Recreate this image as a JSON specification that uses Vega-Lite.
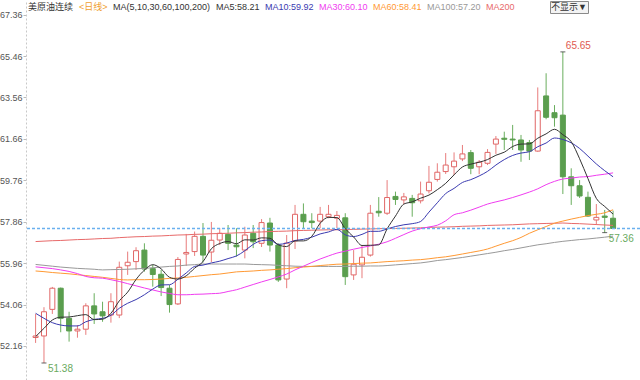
{
"$schema": "https://vega.github.io/schema/vega-lite/v6.json",
"width": 614, "height": 380,
"autosize": {"type": "none"},
"padding": {"left": 26, "top": 0, "right": 0, "bottom": 0},
"background": "white",
"config": {"view": {"stroke": null}, "font": "Liberation Sans"},
"datasets": {"k": [
{"i":1,"o":52.55,"h":53.63,"l":52.30,"c":52.62,"m5":52.59,"m10":53.66,"m30":55.79,"m60":55.60,"m100":55.90,"m200":56.95},
{"i":2,"o":52.62,"h":53.94,"l":51.38,"c":53.73,"m5":52.97,"m10":53.43,"m30":55.75,"m60":55.57,"m100":55.86,"m200":56.97},
{"i":3,"o":53.84,"h":54.87,"l":53.63,"c":54.81,"m5":53.35,"m10":53.23,"m30":55.71,"m60":55.53,"m100":55.82,"m200":56.99},
{"i":4,"o":54.81,"h":54.84,"l":52.79,"c":53.43,"m5":53.48,"m10":53.12,"m30":55.65,"m60":55.50,"m100":55.78,"m200":57.00},
{"i":5,"o":53.43,"h":53.73,"l":52.36,"c":52.85,"m5":53.49,"m10":53.08,"m30":55.58,"m60":55.47,"m100":55.75,"m200":57.02},
{"i":6,"o":52.85,"h":53.12,"l":52.54,"c":52.93,"m5":53.55,"m10":53.08,"m30":55.48,"m60":55.43,"m100":55.72,"m200":57.04},
{"i":7,"o":52.93,"h":54.12,"l":52.67,"c":54.00,"m5":53.60,"m10":53.27,"m30":55.35,"m60":55.39,"m100":55.70,"m200":57.05},
{"i":8,"o":54.00,"h":54.58,"l":53.17,"c":53.63,"m5":53.37,"m10":53.38,"m30":55.29,"m60":55.35,"m100":55.68,"m200":57.07},
{"i":9,"o":53.73,"h":54.19,"l":53.27,"c":53.54,"m5":53.39,"m10":53.43,"m30":55.27,"m60":55.31,"m100":55.65,"m200":57.09},
{"i":10,"o":53.58,"h":54.58,"l":53.23,"c":54.19,"m5":53.66,"m10":53.57,"m30":55.20,"m60":55.26,"m100":55.66,"m200":57.10},
{"i":11,"o":53.58,"h":56.03,"l":53.44,"c":55.77,"m5":54.23,"m10":53.89,"m30":55.12,"m60":55.21,"m100":55.67,"m200":57.13},
{"i":12,"o":55.84,"h":56.49,"l":55.42,"c":56.00,"m5":54.63,"m10":54.12,"m30":55.02,"m60":55.19,"m100":55.68,"m200":57.15},
{"i":13,"o":56.03,"h":56.69,"l":55.65,"c":56.53,"m5":55.21,"m10":54.29,"m30":54.92,"m60":55.20,"m100":55.70,"m200":57.17},
{"i":14,"o":56.56,"h":56.87,"l":55.57,"c":55.69,"m5":55.64,"m10":54.51,"m30":54.82,"m60":55.20,"m100":55.72,"m200":57.18},
{"i":15,"o":55.71,"h":55.88,"l":54.88,"c":55.44,"m5":55.89,"m10":54.77,"m30":54.73,"m60":55.21,"m100":55.75,"m200":57.20},
{"i":16,"o":55.45,"h":55.65,"l":54.45,"c":54.84,"m5":55.70,"m10":54.96,"m30":54.64,"m60":55.23,"m100":55.78,"m200":57.21},
{"i":17,"o":54.81,"h":54.96,"l":53.69,"c":54.06,"m5":55.31,"m10":54.97,"m30":54.57,"m60":55.26,"m100":55.81,"m200":57.23},
{"i":18,"o":54.09,"h":56.24,"l":54.04,"c":56.13,"m5":55.23,"m10":55.22,"m30":54.51,"m60":55.28,"m100":55.83,"m200":57.25},
{"i":19,"o":56.38,"h":57.30,"l":55.83,"c":56.45,"m5":55.38,"m10":55.51,"m30":54.51,"m60":55.31,"m100":55.87,"m200":57.26},
{"i":20,"o":56.49,"h":57.41,"l":56.29,"c":57.19,"m5":55.73,"m10":55.81,"m30":54.53,"m60":55.35,"m100":55.89,"m200":57.28},
{"i":21,"o":57.19,"h":57.80,"l":55.99,"c":56.33,"m5":56.03,"m10":55.87,"m30":54.54,"m60":55.39,"m100":55.92,"m200":57.29},
{"i":22,"o":56.47,"h":57.85,"l":56.01,"c":57.01,"m5":56.62,"m10":55.97,"m30":54.56,"m60":55.43,"m100":55.92,"m200":57.31},
{"i":23,"o":57.02,"h":57.57,"l":56.79,"c":57.33,"m5":56.86,"m10":56.05,"m30":54.58,"m60":55.46,"m100":55.92,"m200":57.32},
{"i":24,"o":57.28,"h":57.71,"l":56.56,"c":56.87,"m5":56.95,"m10":56.17,"m30":54.66,"m60":55.51,"m100":55.92,"m200":57.33},
{"i":25,"o":56.79,"h":57.56,"l":56.26,"c":56.71,"m5":56.85,"m10":56.29,"m30":54.74,"m60":55.56,"m100":55.92,"m200":57.35},
{"i":26,"o":56.56,"h":57.63,"l":56.18,"c":57.25,"m5":57.03,"m10":56.53,"m30":54.86,"m60":55.58,"m100":55.92,"m200":57.36},
{"i":27,"o":57.33,"h":57.71,"l":56.65,"c":56.94,"m5":57.02,"m10":56.82,"m30":54.98,"m60":55.60,"m100":55.90,"m200":57.38},
{"i":28,"o":56.87,"h":57.98,"l":56.70,"c":57.82,"m5":57.12,"m10":56.99,"m30":55.10,"m60":55.63,"m100":55.89,"m200":57.39},
{"i":29,"o":57.80,"h":58.04,"l":56.49,"c":56.79,"m5":57.10,"m10":57.02,"m30":55.21,"m60":55.65,"m100":55.88,"m200":57.41},
{"i":30,"o":56.79,"h":56.87,"l":55.10,"c":55.19,"m5":56.80,"m10":56.82,"m30":55.33,"m60":55.68,"m100":55.86,"m200":57.42},
{"i":31,"o":55.23,"h":57.25,"l":54.81,"c":56.88,"m5":56.72,"m10":56.88,"m30":55.46,"m60":55.71,"m100":55.84,"m200":57.43},
{"i":32,"o":56.98,"h":58.63,"l":56.61,"c":58.20,"m5":56.98,"m10":57.00,"m30":55.65,"m60":55.75,"m100":55.82,"m200":57.45},
{"i":33,"o":58.20,"h":58.70,"l":57.56,"c":57.86,"m5":56.98,"m10":57.05,"m30":55.82,"m60":55.78,"m100":55.81,"m200":57.46},
{"i":34,"o":57.89,"h":58.25,"l":57.56,"c":57.82,"m5":57.19,"m10":57.15,"m30":55.99,"m60":55.81,"m100":55.81,"m200":57.47},
{"i":35,"o":57.89,"h":58.54,"l":57.56,"c":58.20,"m5":57.79,"m10":57.30,"m30":56.15,"m60":55.85,"m100":55.81,"m200":57.48},
{"i":36,"o":58.09,"h":58.63,"l":58.02,"c":58.20,"m5":58.06,"m10":57.39,"m30":56.29,"m60":55.88,"m100":55.81,"m200":57.49},
{"i":37,"o":58.02,"h":58.35,"l":57.57,"c":58.15,"m5":58.05,"m10":57.51,"m30":56.42,"m60":55.91,"m100":55.81,"m200":57.49},
{"i":38,"o":58.04,"h":58.25,"l":54.96,"c":55.34,"m5":57.54,"m10":57.26,"m30":56.51,"m60":55.92,"m100":55.81,"m200":57.50},
{"i":39,"o":55.42,"h":56.56,"l":55.19,"c":55.91,"m5":57.16,"m10":57.18,"m30":56.60,"m60":55.94,"m100":55.82,"m200":57.51},
{"i":40,"o":55.88,"h":56.79,"l":55.27,"c":56.23,"m5":56.77,"m10":57.28,"m30":56.68,"m60":55.96,"m100":55.82,"m200":57.52},
{"i":41,"o":56.33,"h":58.63,"l":56.26,"c":58.25,"m5":56.78,"m10":57.42,"m30":56.75,"m60":55.97,"m100":55.83,"m200":57.53},
{"i":42,"o":58.34,"h":58.99,"l":58.09,"c":58.27,"m5":56.80,"m10":57.42,"m30":56.83,"m60":56.00,"m100":55.83,"m200":57.54},
{"i":43,"o":58.25,"h":59.77,"l":58.17,"c":58.97,"m5":57.53,"m10":57.53,"m30":56.94,"m60":56.03,"m100":55.85,"m200":57.55},
{"i":44,"o":59.02,"h":59.24,"l":58.63,"c":58.88,"m5":58.12,"m10":57.64,"m30":57.10,"m60":56.05,"m100":55.88,"m200":57.55},
{"i":45,"o":58.86,"h":59.18,"l":58.67,"c":59.00,"m5":58.67,"m10":57.72,"m30":57.27,"m60":56.07,"m100":55.91,"m200":57.56},
{"i":46,"o":58.93,"h":59.09,"l":58.09,"c":58.73,"m5":58.77,"m10":57.77,"m30":57.43,"m60":56.10,"m100":55.94,"m200":57.57},
{"i":47,"o":58.82,"h":59.70,"l":58.70,"c":59.13,"m5":58.94,"m10":57.87,"m30":57.54,"m60":56.12,"m100":55.97,"m200":57.58},
{"i":48,"o":59.28,"h":60.42,"l":59.16,"c":59.67,"m5":59.08,"m10":58.30,"m30":57.62,"m60":56.16,"m100":56.02,"m200":57.60},
{"i":49,"o":59.80,"h":60.54,"l":59.70,"c":60.13,"m5":59.33,"m10":58.73,"m30":57.70,"m60":56.21,"m100":56.08,"m200":57.61},
{"i":50,"o":60.16,"h":61.01,"l":60.05,"c":60.46,"m5":59.62,"m10":59.15,"m30":57.90,"m60":56.25,"m100":56.12,"m200":57.62},
{"i":51,"o":60.38,"h":61.04,"l":60.00,"c":60.64,"m5":60.01,"m10":59.39,"m30":58.18,"m60":56.31,"m100":56.17,"m200":57.63},
{"i":52,"o":60.74,"h":61.38,"l":60.64,"c":60.97,"m5":60.37,"m10":59.66,"m30":58.27,"m60":56.38,"m100":56.22,"m200":57.65},
{"i":53,"o":61.03,"h":61.15,"l":60.04,"c":60.31,"m5":60.50,"m10":59.79,"m30":58.39,"m60":56.45,"m100":56.28,"m200":57.66},
{"i":54,"o":60.38,"h":60.69,"l":60.04,"c":60.59,"m5":60.59,"m10":59.96,"m30":58.53,"m60":56.52,"m100":56.34,"m200":57.67},
{"i":55,"o":60.54,"h":61.19,"l":60.46,"c":61.04,"m5":60.71,"m10":60.17,"m30":58.67,"m60":56.61,"m100":56.40,"m200":57.69},
{"i":56,"o":61.42,"h":61.79,"l":60.97,"c":61.65,"m5":60.91,"m10":60.46,"m30":58.77,"m60":56.74,"m100":56.46,"m200":57.70},
{"i":57,"o":61.69,"h":61.99,"l":61.15,"c":61.64,"m5":61.05,"m10":60.71,"m30":58.86,"m60":56.87,"m100":56.53,"m200":57.71},
{"i":58,"o":61.65,"h":62.30,"l":61.15,"c":61.61,"m5":61.31,"m10":60.90,"m30":58.97,"m60":56.99,"m100":56.59,"m200":57.72},
{"i":59,"o":61.61,"h":61.84,"l":60.61,"c":61.15,"m5":61.42,"m10":61.01,"m30":59.09,"m60":57.14,"m100":56.66,"m200":57.74},
{"i":60,"o":61.49,"h":61.61,"l":60.69,"c":61.10,"m5":61.43,"m10":61.07,"m30":59.22,"m60":57.33,"m100":56.73,"m200":57.76},
{"i":61,"o":61.10,"h":64.02,"l":61.07,"c":62.95,"m5":61.69,"m10":61.30,"m30":59.37,"m60":57.49,"m100":56.80,"m200":57.77},
{"i":62,"o":63.63,"h":64.67,"l":62.56,"c":62.65,"m5":61.89,"m10":61.47,"m30":59.56,"m60":57.64,"m100":56.85,"m200":57.78},
{"i":63,"o":62.86,"h":63.21,"l":62.22,"c":62.63,"m5":62.10,"m10":61.70,"m30":59.71,"m60":57.79,"m100":56.91,"m200":57.79},
{"i":64,"o":62.75,"h":65.65,"l":59.13,"c":59.92,"m5":61.85,"m10":61.63,"m30":59.82,"m60":57.89,"m100":56.96,"m200":57.80},
{"i":65,"o":59.92,"h":60.31,"l":58.63,"c":59.51,"m5":61.53,"m10":61.48,"m30":59.86,"m60":57.98,"m100":57.00,"m200":57.78},
{"i":66,"o":59.51,"h":59.77,"l":58.95,"c":59.04,"m5":60.75,"m10":61.22,"m30":59.91,"m60":58.06,"m100":57.04,"m200":57.77},
{"i":67,"o":58.98,"h":59.24,"l":58.09,"c":58.12,"m5":59.84,"m10":60.87,"m30":59.93,"m60":58.14,"m100":57.07,"m200":57.75},
{"i":68,"o":57.94,"h":58.67,"l":57.71,"c":58.06,"m5":58.93,"m10":60.51,"m30":59.99,"m60":58.20,"m100":57.11,"m200":57.73},
{"i":69,"o":58.12,"h":58.40,"l":57.36,"c":58.06,"m5":58.56,"m10":60.20,"m30":60.04,"m60":58.27,"m100":57.15,"m200":57.71},
{"i":70,"o":58.02,"h":58.37,"l":57.55,"c":57.55,"m5":58.21,"m10":59.92,"m30":60.10,"m60":58.41,"m100":57.20,"m200":57.69}
]},
"layer": [
{"data": {"name": "k"},
 "mark": {"type": "rule", "strokeWidth": 1},
 "encoding": {
  "x": {"field": "i", "type": "quantitative", "scale": {"domain": [0.45, 72.62], "nice": false, "zero": false}, "axis": null},
  "y": {"field": "l", "type": "quantitative", "scale": {"domain": [50.6, 68.03], "nice": false, "zero": false},
        "axis": {"values": [52.16,54.06,55.96,57.86,59.76,61.66,63.56,65.46,67.36], "format": ".2f", "title": null, "grid": false,
                 "labelFontSize": 9, "labelColor": "#555555", "labelFont": "Liberation Sans", "tickSize": 3, "tickColor": "#bbbbbb",
                 "domainColor": "#c8c8c8", "domainDash": [2,2], "labelPadding": 1}},
  "y2": {"field": "h"},
  "color": {"condition": {"test": "datum.c >= datum.o", "value": "#e87c7c"}, "value": "#6aae5e"}
 }},
{"data": {"name": "k"},
 "mark": {"type": "bar", "size": 5, "strokeWidth": 1},
 "encoding": {
  "x": {"field": "i", "type": "quantitative"},
  "y": {"field": "o", "type": "quantitative"},
  "y2": {"field": "c"},
  "fill": {"condition": {"test": "datum.c >= datum.o", "value": "#ffffff"}, "value": "#5a9e4e"},
  "stroke": {"condition": {"test": "datum.c >= datum.o", "value": "#e06666"}, "value": "#5a9e4e"}
 }},
{"data": {"name": "k"},
 "mark": {"type": "line", "strokeWidth": 1, "interpolate": "monotone"},
 "encoding": {
  "x": {"field": "i", "type": "quantitative"},
  "y": {"field": "m200", "type": "quantitative"},
  "color": {"datum": "MA200", "scale": {"domain": ["美原油连续", "<日线>", "MA(5,10,30,60,100,200)", "MA5:58.21", "MA10:59.92", "MA30:60.10", "MA60:58.41", "MA100:57.20", "MA200"],
            "range": ["#333333", "#f0a030", "#333333", "#333333", "#3a3ab0", "#f03cf0", "#ff9933", "#999999", "#e86a6a"]},
            "legend": {"orient": "none", "legendX": 2, "legendY": 2, "direction": "horizontal", "title": null,
                       "symbolType": "circle", "symbolSize": 0.01, "symbolStrokeWidth": 0, "symbolOpacity": 0, "labelOffset": -9, "columnPadding": 5,
                       "labelFontSize": 9, "labelFont": "Liberation Sans, Noto Sans CJK SC", "labelLimit": 0, "gridAlign": "none",
                       "labelColor": {"expr": "scale('color', datum.value)"}}}
 }},
{"data": {"name": "k"},
 "mark": {"type": "line", "strokeWidth": 1, "interpolate": "monotone"},
 "encoding": {"x": {"field": "i", "type": "quantitative"}, "y": {"field": "m100", "type": "quantitative"}, "color": {"datum": "MA100:57.20"}}},
{"data": {"name": "k"},
 "mark": {"type": "line", "strokeWidth": 1, "interpolate": "monotone"},
 "encoding": {"x": {"field": "i", "type": "quantitative"}, "y": {"field": "m60", "type": "quantitative"}, "color": {"datum": "MA60:58.41"}}},
{"data": {"name": "k"},
 "mark": {"type": "line", "strokeWidth": 1, "interpolate": "monotone"},
 "encoding": {"x": {"field": "i", "type": "quantitative"}, "y": {"field": "m30", "type": "quantitative"}, "color": {"datum": "MA30:60.10"}}},
{"data": {"name": "k"},
 "mark": {"type": "line", "strokeWidth": 1, "interpolate": "monotone"},
 "encoding": {"x": {"field": "i", "type": "quantitative"}, "y": {"field": "m10", "type": "quantitative"}, "color": {"datum": "MA10:59.92"}}},
{"data": {"name": "k"},
 "mark": {"type": "line", "strokeWidth": 1, "interpolate": "monotone"},
 "encoding": {"x": {"field": "i", "type": "quantitative"}, "y": {"field": "m5", "type": "quantitative"}, "color": {"datum": "MA5:58.21"}}},
{"data": {"values": [{"p": 57.55}]},
 "mark": {"type": "rule", "strokeDash": [3,2], "strokeWidth": 1.5},
 "encoding": {"y": {"field": "p", "type": "quantitative"},
   "stroke": {"datum": "不显示▼", "scale": {"domain": ["不显示▼"], "range": ["#6ab0ee"]},
     "legend": {"orient": "none", "legendX": 524, "legendY": 1, "title": null, "symbolType": "circle", "symbolSize": 0.01, "symbolOpacity": 0, "symbolStrokeWidth": 0,
                "labelOffset": -9, "labelFontSize": 9, "labelColor": "#333333", "labelFont": "Liberation Sans, Noto Sans CJK SC",
                "strokeColor": "#8a8a8a", "fillColor": "#f3f3f3", "padding": 1}}}},
{"data": {"values": [{"i": 64, "v": 65.65}, {"i": 2, "v": 51.38}, {"i": 69, "v": 57.36}]},
 "mark": {"type": "tick", "orient": "horizontal", "size": 5, "thickness": 1, "color": "#222222"},
 "encoding": {"x": {"field": "i", "type": "quantitative"}, "y": {"field": "v", "type": "quantitative"}}},
{"data": {"values": [{"i": 64, "v": 65.65}]},
 "mark": {"type": "text", "align": "left", "baseline": "middle", "dx": 3, "dy": -6, "fontSize": 10, "color": "#e05a50", "font": "Liberation Sans"},
 "encoding": {"x": {"field": "i", "type": "quantitative"}, "y": {"field": "v", "type": "quantitative"}, "text": {"field": "v", "type": "quantitative", "format": ".2f"}}},
{"data": {"values": [{"i": 2, "v": 51.38}, {"i": 69, "v": 57.36}]},
 "mark": {"type": "text", "align": "left", "baseline": "middle", "dx": 4, "dy": 6, "fontSize": 10, "color": "#6aaa60", "font": "Liberation Sans"},
 "encoding": {"x": {"field": "i", "type": "quantitative"}, "y": {"field": "v", "type": "quantitative"}, "text": {"field": "v", "type": "quantitative", "format": ".2f"}}}
]
}
